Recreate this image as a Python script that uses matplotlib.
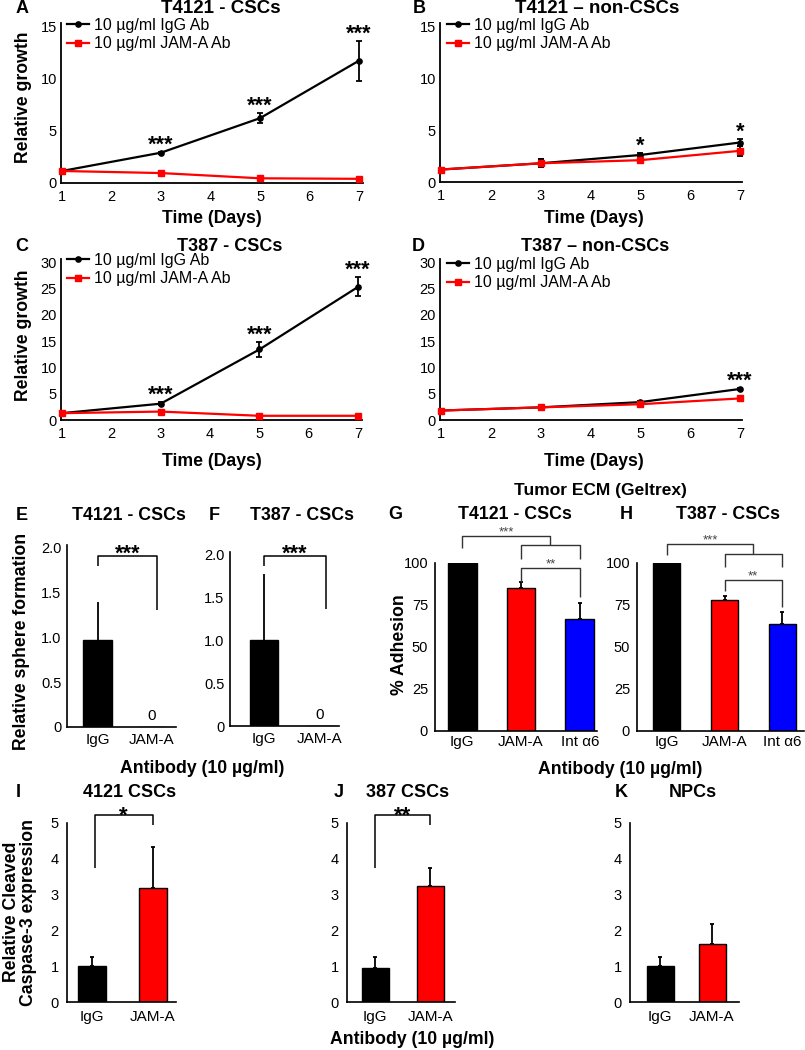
import matplotlib
matplotlib.use('Agg')
import matplotlib.pyplot as plt
from matplotlib.lines import Line2D
import numpy as np

plt.rcParams['font.family'] = ['Liberation Sans', 'DejaVu Sans']

# ---------------- data ----------------
days = [1, 3, 5, 7]
legend_labels = ['10 µg/ml IgG Ab', '10 µg/ml JAM-A Ab']

A_igg = [1.15, 2.9, 6.2, 11.7]
A_igg_err = [0.05, 0.1, 0.5, 1.9]
A_jam = [1.15, 0.95, 0.45, 0.4]
A_jam_err = [0.05, 0.05, 0.05, 0.05]
A_stars = ['', '***', '***', '***']

B_igg = [1.2, 1.8, 2.6, 3.8]
B_igg_err = [0.05, 0.4, 0.2, 0.35]
B_jam = [1.2, 1.8, 2.1, 3.0]
B_jam_err = [0.05, 0.4, 0.15, 0.45]
B_stars = ['', '', '*', '*']

C_igg = [1.3, 3.1, 13.4, 25.3]
C_igg_err = [0.1, 0.3, 1.4, 1.8]
C_jam = [1.3, 1.6, 0.8, 0.8]
C_jam_err = [0.1, 0.1, 0.1, 0.1]
C_stars = ['', '***', '***', '***']

D_igg = [1.8, 2.4, 3.4, 5.9]
D_igg_err = [0.1, 0.15, 0.2, 0.2]
D_jam = [1.8, 2.4, 3.0, 4.1]
D_jam_err = [0.1, 0.1, 0.15, 0.2]
D_stars = ['', '', '', '***']

cats2 = ['IgG', 'JAM-A']
cats3 = ['IgG', 'JAM-A', 'Int α6']

E_vals = [0.97, 0.0]
E_err = [0.42, 0.0]
F_vals = [1.0, 0.0]
F_err = [0.78, 0.0]

G_vals = [100, 85, 66.7]
G_err = [1.0, 3.7, 9.5]
H_vals = [100, 78, 63.7]
H_err = [0.5, 2.4, 7.3]

I_vals = [1.0, 3.18]
I_err = [0.25, 1.15]
J_vals = [0.95, 3.24]
J_err = [0.3, 0.5]
K_vals = [1.0, 1.62]
K_err = [0.26, 0.56]

colors2 = ['#000000', '#ff0000']
colors3 = ['#000000', '#ff0000', '#0000ff']

# ---------------- figure ----------------
W, H = 805, 1050
fig = plt.figure(figsize=(W / 100, H / 100), dpi=100)

TICK = 10.5


def add_ax(l, t, r, b):
    return fig.add_axes([l / W, 1 - b / H, (r - l) / W, (b - t) / H])


def ftext(x, y, s, **kw):
    kw.setdefault('ha', 'center')
    kw.setdefault('va', 'baseline')
    fig.text(x / W, 1 - y / H, s, **kw)


def style_axes(ax, lw=1.3):
    for s in ['top', 'right']:
        ax.spines[s].set_visible(False)
    for s in ['left', 'bottom']:
        ax.spines[s].set_linewidth(lw)


def line_panel(box, igg, igg_err, jam, jam_err, stars, xlim, ylim, yticks, leg_xy):
    ax = add_ax(*box)
    ax.errorbar(days, igg, yerr=igg_err, color='black', marker='o', ms=3.8,
                lw=1.6, elinewidth=1.3, capsize=2, capthick=1.3, clip_on=False, zorder=3)
    ax.errorbar(days, jam, yerr=jam_err, color='#ff0000', marker='s', ms=4.2,
                lw=1.6, elinewidth=1.3, capsize=2, capthick=1.3, ecolor='black',
                clip_on=False, zorder=4)
    ax.set_xlim(*xlim)
    ax.set_ylim(*ylim)
    ax.set_xticks(range(1, 8))
    ax.set_yticks(yticks)
    style_axes(ax)
    ax.tick_params(axis='both', length=0, labelsize=TICK)
    ax.tick_params(axis='x', pad=5)
    ax.tick_params(axis='y', pad=3)
    for d, v, e, v2, e2, s in zip(days, igg, igg_err, jam, jam_err, stars):
        if s:
            top = max(v + e, v2 + e2)
            ax.annotate(s, (d, top), xytext=(0, 1), textcoords='offset points',
                        ha='center', va='baseline', fontsize=15.5, fontweight='bold',
                        annotation_clip=False)
    handles = [Line2D([], [], color='black', marker='o', ms=3.8, lw=1.6),
               Line2D([], [], color='#ff0000', marker='s', ms=4.2, lw=1.6)]
    ax.legend(handles, legend_labels, loc='upper left',
              bbox_to_anchor=(leg_xy[0] / W, 1 - leg_xy[1] / H),
              bbox_transform=fig.transFigure, frameon=False, fontsize=11.5,
              handlelength=1.35, handletextpad=0.35, labelspacing=0.2,
              borderpad=0, borderaxespad=0)
    return ax


def bar_panel(box, cats, vals, errs, colors, bw, xlim, ylim, yticks, yticklabels,
              capsize, xpad=4, ypad=4):
    ax = add_ax(*box)
    x = np.arange(len(cats))
    ax.bar(x, vals, width=bw, color=colors, edgecolor='black', linewidth=1.0, zorder=2)
    ax.errorbar(x, vals, yerr=[np.zeros(len(x)), errs], fmt='none', ecolor='black',
                elinewidth=1.3, capsize=capsize, capthick=1.3, zorder=3)
    ax.set_xlim(*xlim)
    ax.set_ylim(*ylim)
    ax.set_xticks(x)
    ax.set_xticklabels(cats, fontsize=11)
    ax.set_yticks(yticks)
    ax.set_yticklabels(yticklabels, fontsize=TICK)
    style_axes(ax, 1.2)
    ax.tick_params(axis='both', length=0)
    ax.tick_params(axis='x', pad=xpad)
    ax.tick_params(axis='y', pad=ypad)
    return ax


def bracket(ax, x0, x1, ytop, yl, yr, color='black', lw=1.1):
    ax.plot([x0, x0, x1, x1], [yl, ytop, ytop, yr], color=color, lw=lw,
            clip_on=False, solid_capstyle='butt', zorder=5)


def star(ax, x, y, s, size, dy, color='black', weight='bold'):
    ax.annotate(s, (x, y), xytext=(0, dy), textcoords='offset points', ha='center',
                va='baseline', fontsize=size, fontweight=weight, color=color,
                annotation_clip=False)


# ---------------- line panels ----------------
axA = line_panel((61, 23, 363, 183), A_igg, A_igg_err, A_jam, A_jam_err, A_stars,
                 (0.98, 7.08), (0, 15.3), [0, 5, 10, 15], (67, 18))
axB = line_panel((440, 23, 742, 182), B_igg, B_igg_err, B_jam, B_jam_err, B_stars,
                 (0.98, 7.04), (0, 15.3), [0, 5, 10, 15], (447, 18))
axC = line_panel((61, 259, 362, 420), C_igg, C_igg_err, C_jam, C_jam_err, C_stars,
                 (0.98, 7.08), (0, 30.6), [0, 5, 10, 15, 20, 25, 30], (67, 253))
axD = line_panel((440, 259, 742, 420), D_igg, D_igg_err, D_jam, D_jam_err, D_stars,
                 (0.98, 7.04), (0, 30.6), [0, 5, 10, 15, 20, 25, 30], (447, 257))

# ---------------- sphere formation ----------------
sph_ticks = [0, 0.5, 1.0, 1.5, 2.0]
sph_labels = ['0', '0.5', '1.0', '1.5', '2.0']
axE = bar_panel((67, 545, 176, 727), cats2, E_vals, E_err, colors2, 0.53,
                (-0.56, 1.44), (0, 2.03), sph_ticks, sph_labels, 0)
axF = bar_panel((230, 552, 339, 726), cats2, F_vals, F_err, colors2, 0.5,
                (-0.61, 1.34), (0, 2.035), sph_ticks, sph_labels, 0)
for ax, top, yl, yr in [(axE, 1.91, 1.80, 1.30), (axF, 1.99, 1.87, 1.37)]:
    bracket(ax, 0, 1.1, top, yl, yr)
    star(ax, 0.55, top, '***', 15.5, -2.5)
    ax.annotate('0', (1, 0), xytext=(0, 5), textcoords='offset points', ha='center',
                va='baseline', fontsize=11)

# ---------------- adhesion ----------------
adh_ticks = [0, 25, 50, 75, 100]
adh_labels = ['0', '25', '50', '75', '100']
axG = bar_panel((435, 563, 597, 731), cats3, G_vals, G_err, colors3, 0.49,
                (-0.46, 2.29), (0, 100), adh_ticks, adh_labels, 1.5, xpad=3, ypad=5)
axH = bar_panel((637, 563, 804, 731), cats3, H_vals, H_err, colors3, 0.47,
                (-0.52, 2.38), (0, 100), adh_ticks, adh_labels, 1.5, xpad=3, ypad=5)
gc = '#333333'
bracket(axG, 0, 1.5, 116, 109, 110.7, gc, 1.0)
bracket(axG, 1, 2, 110.7, 102.4, 102.4, gc, 1.0)
bracket(axG, 1, 2, 97, 88.7, 80, gc, 1.0)
star(axG, 0.75, 116, '***', 9.5, 0.5, '#444444', 'normal')
star(axG, 1.5, 97, '**', 9.5, 0.5, '#444444', 'normal')
bracket(axH, 0, 1.5, 111.3, 104.8, 105.4, gc, 1.0)
bracket(axH, 1, 2, 105.4, 97.6, 97.6, gc, 1.0)
bracket(axH, 1, 2, 90, 83.3, 74, gc, 1.0)
star(axH, 0.75, 111.3, '***', 9.5, 0.5, '#444444', 'normal')
star(axH, 1.5, 90, '**', 9.5, 0.5, '#444444', 'normal')

# ---------------- caspase ----------------
casp_ticks = [0, 1, 2, 3, 4, 5]
casp_labels = ['0', '1', '2', '3', '4', '5']
axI = bar_panel((67, 823, 176, 1002), cats2, I_vals, I_err, colors2, 0.46,
                (-0.41, 1.38), (0, 5), casp_ticks, casp_labels, 1.5, xpad=6, ypad=6)
axJ = bar_panel((347, 823, 455, 1002), cats2, J_vals, J_err, colors2, 0.49,
                (-0.51, 1.45), (0, 5), casp_ticks, casp_labels, 1.5, xpad=6, ypad=6)
axK = bar_panel((630, 823, 739, 1002), cats2, K_vals, K_err, colors2, 0.52,
                (-0.58, 1.52), (0, 5), casp_ticks, casp_labels, 1.5, xpad=6, ypad=6)
bracket(axI, 0.05, 1.0, 5.22, 3.74, 4.94)
star(axI, 0.52, 5.22, '*', 16, -5)
bracket(axJ, 0.0, 1.0, 5.22, 3.74, 4.94)
star(axJ, 0.5, 5.22, '**', 16, -5)

# ---------------- texts ----------------
bold = dict(fontweight='bold')
for x, y, s in [(22, 13, 'A'), (419, 13, 'B'), (22, 251, 'C'), (418, 251, 'D'),
                (22, 520, 'E'), (214, 520, 'F'), (395, 519, 'G'), (626, 519, 'H'),
                (18, 797, 'I'), (339, 797, 'J'), (621, 797, 'K')]:
    ftext(x, y, s, fontsize=13, **bold)

ftext(221, 13, 'T4121 - CSCs', fontsize=13.5, **bold)
ftext(597, 13, 'T4121 \u2013 non-CSCs', fontsize=13.5, **bold)
ftext(230, 251, 'T387 - CSCs', fontsize=13, **bold)
ftext(595, 251, 'T387 \u2013 non-CSCs', fontsize=13, **bold)
ftext(129, 520, 'T4121 - CSCs', fontsize=12.8, **bold)
ftext(302, 520, 'T387 - CSCs', fontsize=12.8, **bold)
ftext(515, 519, 'T4121 - CSCs', fontsize=12.8, **bold)
ftext(728, 519, 'T387 - CSCs', fontsize=12.8, **bold)
ftext(600, 495, 'Tumor ECM (Geltrex)', fontsize=12.5, **bold)
ftext(130, 797, '4121 CSCs', fontsize=13, **bold)
ftext(408, 797, '387 CSCs', fontsize=13, **bold)
ftext(693, 797, 'NPCs', fontsize=13, **bold)

for x, y in [(212, 223), (594, 223), (212, 466), (594, 466)]:
    ftext(x, y, 'Time (Days)', fontsize=12.7, **bold)
for x, y in [(202, 773), (620, 774), (412, 1044)]:
    ftext(x, y, 'Antibody (10 µg/ml)', fontsize=12.7, **bold)

ftext(23, 97, 'Relative growth', fontsize=12.7, rotation=90, va='center', **bold)
ftext(23, 335, 'Relative growth', fontsize=12.7, rotation=90, va='center', **bold)
ftext(22, 641, 'Relative sphere formation', fontsize=12.7, rotation=90, va='center', **bold)
ftext(399, 645, '% Adhesion', fontsize=12.7, rotation=90, va='center', **bold)
ftext(20, 912, 'Relative Cleaved\nCaspase-3 expression', fontsize=12.7, rotation=90,
      va='center', multialignment='center', linespacing=1.05, **bold)

fig.savefig('out.png', dpi=100)
